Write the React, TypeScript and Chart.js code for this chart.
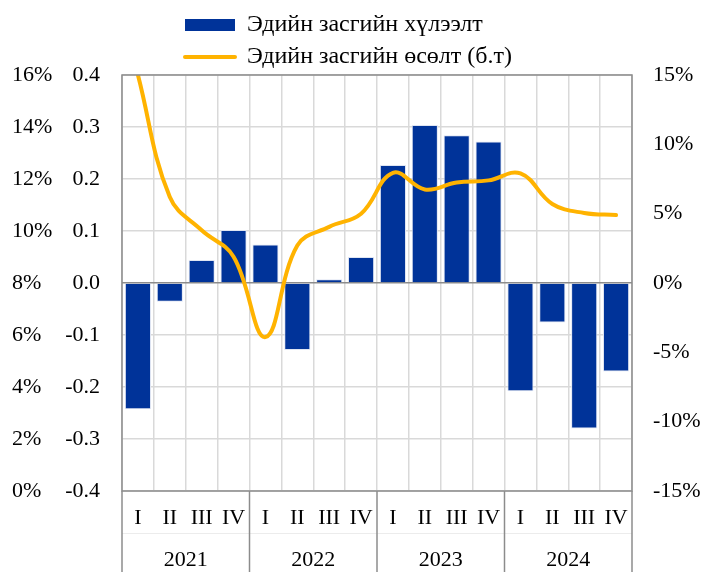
import React, { useEffect, useRef } from 'react';
import { Chart, registerables } from 'chart.js';

Chart.register(...registerables);

const QUARTERS = ['I', 'II', 'III', 'IV'];
const YEARS = ['2021', '2022', '2023', '2024'];
const CATEGORIES = YEARS.flatMap(() => QUARTERS);

const EXPECTATION = [
  -0.243, -0.036, 0.044, 0.102,
  0.074, -0.129, 0.007, 0.05,
  0.227, 0.304, 0.284, 0.272,
  -0.208, -0.076, -0.28, -0.17,
];
const GROWTH = [
  15.0, 6.2, 3.8, 1.9,
  -3.9, 2.7, 4.05, 5.0,
  7.95, 6.75, 7.25, 7.4,
  7.9, 5.7, 5.05, 4.9,
];

const SERIES_BAR = 'Эдийн засгийн хүлээлт';
const SERIES_LINE = 'Эдийн засгийн өсөлт (б.т)';

const FONT = 'Liberation Serif, Times New Roman, serif';
const FS = 22;
const LEGEND_FS = 24;
const BLUE = '#003399';
const ORANGE = '#FFB300';
const BORDER = '#8c8c8c';
const GRID = '#d9d9d9';

const frame = {
  id: 'frame',
  afterLayout(chart: any) {
    const lg = chart.legend;
    if (lg) {
      lg.left = 177;
      lg.right = 177 + 380;
      lg.width = 380;
      lg.top = 5;
      lg.bottom = 75;
      lg.height = 70;
    }
  },
  afterDraw(chart: any) {
    const { ctx, chartArea: a } = chart;
    const xs = chart.scales.x;
    const half = (xs.getPixelForValue(1) - xs.getPixelForValue(0)) / 2;
    ctx.save();
    ctx.strokeStyle = '#ececec';
    ctx.lineWidth = 1;
    ctx.beginPath();
    ctx.moveTo(a.left, 533.5);
    ctx.lineTo(a.right, 533.5);
    ctx.stroke();
    ctx.strokeStyle = BORDER;
    ctx.lineWidth = 1.5;
    for (let g = 0; g <= YEARS.length; g++) {
      const idx = g * QUARTERS.length;
      const px = g === YEARS.length
        ? xs.getPixelForValue(idx - 1) + half
        : xs.getPixelForValue(idx) - half;
      ctx.beginPath();
      ctx.moveTo(px, a.bottom);
      ctx.lineTo(px, chart.height);
      ctx.stroke();
    }
    ctx.strokeRect(a.left, a.top, a.right - a.left, a.bottom - a.top);
    ctx.restore();
  },
};

export default function App() {
  const ref = useRef<HTMLCanvasElement | null>(null);

  useEffect(() => {
    if (!ref.current) return;
    const tickFont = { family: FONT, size: FS };
    const chart = new Chart(ref.current, {
      data: {
        labels: CATEGORIES,
        datasets: [
          {
            type: 'line',
            label: SERIES_LINE,
            data: GROWTH,
            yAxisID: 'y1',
            borderColor: ORANGE,
            backgroundColor: ORANGE,
            borderWidth: 4,
            pointRadius: 0,
            tension: 0.4,
            borderCapStyle: 'round',
            order: 0,
          } as any,
          {
            type: 'bar',
            label: SERIES_BAR,
            data: EXPECTATION,
            yAxisID: 'y',
            backgroundColor: BLUE,
            borderColor: '#dfe5f2',
            borderWidth: 1,
            barPercentage: 0.82,
            categoryPercentage: 1,
            order: 1,
          } as any,
        ],
      },
      options: {
        animation: false,
        responsive: false,
        maintainAspectRatio: false,
        layout: { padding: { top: 33, left: 12, right: 0, bottom: 0 } },
        plugins: {
          tooltip: { enabled: false },
          legend: {
            position: 'top',
            align: 'start',
            maxHeight: 42,
            reverse: true,
            labels: {
              font: { family: FONT, size: LEGEND_FS },
              color: '#000',
              padding: 8,
              usePointStyle: true,
              pointStyleWidth: 50,
              boxHeight: 12,
              generateLabels: (chart: any) => {
                const items = Chart.defaults.plugins.legend.labels.generateLabels(chart);
                return items.map((it: any) => {
                  const ds = chart.data.datasets[it.datasetIndex];
                  if (ds.type === 'line') {
                    return { ...it, pointStyle: 'line', lineWidth: 4, strokeStyle: ORANGE, lineCap: 'round' };
                  }
                  return { ...it, pointStyle: 'rect', lineWidth: 0, fillStyle: BLUE };
                });
              },
            },
          },
        },
        scales: {
          x: {
            type: 'category',
            position: 'bottom',
            offset: true,
            grid: { color: GRID, lineWidth: 1.5, drawTicks: false, offset: true },
            border: { display: false },
            ticks: { font: tickFont, color: '#000', padding: 14, maxRotation: 0, autoSkip: false },
            afterFit: (s: any) => { s.height = 40; },
          },
          x2: {
            type: 'category',
            position: 'bottom',
            labels: YEARS,
            offset: true,
            grid: { display: false, drawTicks: false },
            border: { display: false },
            ticks: { font: tickFont, color: '#000', padding: 16, maxRotation: 0 },
            afterFit: (s: any) => { s.height = 41; },
          },
          y: {
            type: 'linear',
            position: 'left',
            min: -0.4,
            max: 0.4,
            weight: 0,
            grid: {
              drawTicks: false,
              lineWidth: 1.5,
              color: (c: any) => (Math.abs(c.tick?.value ?? 1) < 1e-9 ? BORDER : GRID),
            },
            border: { display: false },
            ticks: {
              stepSize: 0.1,
              font: tickFont,
              color: '#000',
              padding: 22,
              callback: (v: any) => Number(v).toFixed(1),
            },
            afterFit: (s: any) => { s.width = 59; },
          },
          y0: {
            type: 'linear',
            position: 'left',
            min: 0,
            max: 16,
            weight: 1,
            grid: { display: false, drawTicks: false },
            border: { display: false },
            ticks: {
              stepSize: 2,
              font: tickFont,
              color: '#000',
              crossAlign: 'far',
              padding: 10,
              callback: (v: any) => `${v}%`,
            },
            afterFit: (s: any) => { s.width = 51; },
          },
          y1: {
            type: 'linear',
            position: 'right',
            min: -15,
            max: 15,
            grid: { display: false, drawTicks: false },
            border: { display: false },
            ticks: {
              stepSize: 5,
              font: tickFont,
              color: '#000',
              padding: 21,
              callback: (v: any) => `${v}%`,
            },
            afterFit: (s: any) => { s.width = 74; },
          },
        },
      } as any,
      plugins: [frame],
    });
    return () => chart.destroy();
  }, []);

  return (
    <div style={{ position: 'fixed', left: 0, top: 0, width: 706, height: 572, background: '#fff' }}>
      <canvas ref={ref} width={706} height={572} style={{ display: 'block' }} />
    </div>
  );
}
